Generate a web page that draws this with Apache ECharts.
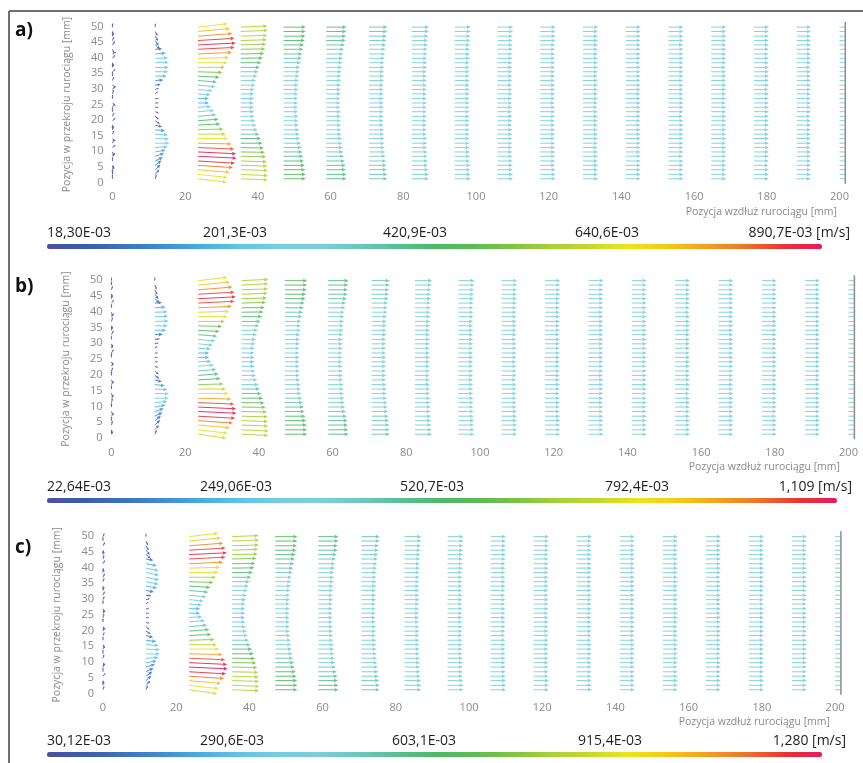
<!DOCTYPE html>
<html>
<head>
<meta charset="utf-8">
<script src="https://cdn.jsdelivr.net/npm/echarts@6/dist/echarts.min.js"></script>
<style>
  html, body { margin: 0; padding: 0; background: #fff; }
  #chart { width: 863px; height: 763px; }
</style>
</head>
<body>
<div id="chart"></div>
<script>
// ---- probe grid: stream-wise columns and cross-section rows [mm] ----
const colX = [0, 11.76, 23.53, 35.29, 47.06, 58.82, 70.59, 82.35, 94.12, 105.88,
              117.65, 129.41, 141.18, 152.94, 164.71, 176.47, 188.24, 200];
const rowY = [1.2, 2.6, 4.1, 5.5, 6.9, 8.4, 9.8, 11.2, 12.6, 14.1, 15.5, 16.9,
              18.4, 19.8, 21.2, 22.7, 24.1, 25.5, 26.9, 28.4, 29.8, 31.2, 32.7,
              34.1, 35.5, 36.9, 38.4, 39.8, 41.2, 42.7, 44.1, 45.5, 46.9, 48.4, 49.8];

// ---- colour-scale ranges [mm/s] and their labels ----
const rangeA = [18.30, 890.7];
const rangeB = [22.64, 1109];
const rangeC = [30.12, 1280];
const legendA = ['18,30E-03', '201,3E-03', '420,9E-03', '640,6E-03', '890,7E-03 [m/s]'];
const legendB = ['22,64E-03', '249,06E-03', '520,7E-03', '792,4E-03', '1,109 [m/s]'];
const legendC = ['30,12E-03', '290,6E-03', '603,1E-03', '915,4E-03', '1,280 [m/s]'];

// ---- velocity components [mm/s], one array per column, rows bottom -> top ----
// case a)
const uA = [
  [0,0,10,10,0, 20,10,20,10,20, 10,0,10,20,10, 0,10,20,0,10, 20,30,10,0,20, 10,0,20,30,10, 20,10,0,10,0],
  [10,50,70,90,120, 150,190,240,280,270, 240,170,100,50,30, 20,10,10,10,10, 20,60,130,210,250, 260,260,240,190,100, 60,40,30,20,0],
  [640,660,720,800,850, 890,880,830,760,680, 620,560,480,440,380, 330,250,200,200,240, 290,360,400,460,530, 600,660,700,770,840, 870,840,780,720,660],
  [600,600,600,590,580, 560,530,500,470,430, 390,350,320,290,270, 260,250,250,250,260, 270,290,310,340,370, 400,440,480,510,540, 560,580,590,600,590],
  [480,480,470,460,440, 420,400,380,360,340, 330,320,310,300,300, 290,290,290,290,290, 300,300,310,320,330, 340,360,380,400,420, 440,460,470,480,480],
  [430,430,420,410,390, 370,350,340,330,320, 310,300,300,290,290, 290,280,280,280,290, 290,290,300,300,310, 320,330,340,350,370, 390,410,420,430,430],
  [380,380,370,360,350, 340,330,320,310,310, 300,300,290,290,290, 290,290,290,290,290, 290,290,300,300,300, 310,310,320,330,340, 350,360,370,380,380],
  [350,350,340,330,330, 320,320,310,310,310, 300,300,300,300,300, 300,300,300,300,300, 300,300,300,300,300, 310,310,310,320,320, 330,330,340,350,350],
  [330,330,320,320,310, 310,310,300,300,300, 300,300,300,300,300, 300,300,300,300,300, 300,300,300,300,300, 300,300,310,310,310, 310,320,320,330,330],
  [320,320,310,310,310, 300,300,300,300,300, 300,300,290,300,300, 290,300,300,290,300, 300,290,300,300,300, 300,300,300,300,310, 310,310,310,320,320],
  [310,310,310,300,300, 300,300,300,300,290, 300,300,300,290,300, 300,300,290,300,300, 300,300,290,300,300, 300,300,300,300,300, 300,310,310,310,310],
  [310,300,300,300,300, 300,300,290,300,300, 300,290,300,300,300, 300,290,300,300,300, 300,300,300,290,300, 300,300,300,300,300, 300,300,300,300,310],
  [300,300,300,300,300, 300,290,300,300,300, 300,300,290,300,300, 300,300,300,300,290, 300,300,300,300,300, 300,290,300,300,300, 300,300,300,300,300],
  [300,300,300,300,300, 290,300,300,300,300, 300,300,300,300,290, 300,300,300,300,300, 300,300,290,300,300, 300,300,300,300,300, 290,300,300,300,300],
  [300,300,300,300,300, 300,300,300,290,300, 300,300,300,300,300, 300,300,290,300,300, 300,300,300,300,300, 290,300,300,300,300, 300,300,300,300,300],
  [300,300,300,290,300, 300,300,300,300,300, 300,290,300,300,300, 300,300,300,300,300, 290,300,300,300,300, 300,300,300,290,300, 300,300,300,300,300],
  [280,280,280,280,280, 280,280,270,280,280, 280,280,280,280,270, 280,280,280,280,280, 280,280,280,280,280, 270,280,280,280,280, 280,280,280,280,280],
  [290,290,290,290,290, 290,290,290,290,290, 290,290,290,290,290, 290,290,290,290,290, 290,290,290,290,290, 290,290,290,290,290, 290,290,290,290,290]
];
const vA = {
  0: [40,50,40,-30,30, 30,-40,20,30,-20, 30,40,-30,20,30, 40,20,-20,30,40, 30,-20,30,40,20, 30,-40,30,20,-30, 40,30,40,-30,30],
  1: [40,70,80,80,70, 60,40,20,0,-10, -20,-20,-30,-40,-30, -10,0,0,0,10, 10,10,10,0,0, 0,10,10,20,10, -60,-70,-60,-50,20],
  2: [-90,-80,-70,-60,-60, -50,-50,-40,-20,0, 0,20,30,40,40, 30,20,0,0,-20, -30,-40,-40,-30,-20, 0,0,20,40,50, 50,60,70,80,90],
  3: [-30,-30,-20,-20,-20, -10,-10,-10,0,0, 0,0,0,0,0, 0,0,0,0,0, 0,0,0,0,0, 0,0,10,10,10, 20,20,20,30,30]
};

// case b)
const uB = [
  [0,10,10,0,20, 10,0,10,20,10, 0,20,10,0,10, 20,10,0,20,10, 10,0,20,10,0, 10,20,10,0,20, 10,0,10,0,0],
  [20,60,90,110,150, 190,240,300,340,350, 300,220,130,60,40, 20,10,10,10,10, 30,70,160,260,310, 330,320,300,240,130, 70,50,30,20,0],
  [780,820,900,990,1060, 1100,1090,1030,940,850, 770,690,600,540,470, 400,310,250,250,300, 360,440,500,570,650, 740,820,870,960,1040, 1080,1040,970,890,810],
  [740,750,740,730,720, 700,660,620,580,530, 480,440,400,360,340, 320,310,310,310,320, 340,360,390,420,460, 500,550,590,630,670, 700,720,730,740,740],
  [600,600,590,570,550, 520,500,470,450,420, 410,400,380,370,370, 360,360,360,360,360, 370,370,380,400,410, 420,450,470,500,520, 550,570,590,600,600],
  [540,530,520,510,490, 460,440,420,410,400, 390,380,370,360,360, 360,350,350,350,360, 360,360,370,380,390, 400,410,420,440,460, 490,510,520,530,540],
  [470,470,460,450,440, 420,410,400,390,380, 380,370,360,360,360, 360,360,360,360,360, 360,360,370,370,380, 380,390,400,410,420, 440,450,460,470,470],
  [440,430,420,410,410, 400,400,390,390,380, 380,370,370,370,370, 370,370,370,370,370, 370,370,370,370,380, 380,390,390,400,400, 410,410,420,430,440],
  [410,410,400,400,390, 390,380,380,380,370, 370,370,370,370,370, 370,370,370,370,370, 370,370,370,370,370, 370,380,380,380,390, 390,400,400,410,410],
  [390,390,390,380,380, 380,370,370,370,370, 370,370,360,370,370, 370,360,370,370,370, 370,360,370,370,370, 370,370,370,370,380, 380,380,390,390,390],
  [380,380,380,380,370, 370,370,370,370,360, 370,370,370,370,370, 360,370,370,370,370, 370,370,360,370,370, 370,370,370,370,370, 370,380,380,380,380],
  [380,370,370,370,370, 370,370,360,370,370, 370,370,370,360,370, 370,370,370,370,370, 360,370,370,370,370, 370,370,360,370,370, 370,370,370,370,380],
  [370,370,370,370,370, 370,360,370,370,370, 370,370,370,370,370, 360,370,370,370,370, 370,370,370,370,360, 370,370,370,370,370, 370,370,370,370,370],
  [370,370,370,370,370, 370,370,370,370,360, 370,370,370,370,370, 370,370,370,360,370, 370,370,370,370,370, 370,370,360,370,370, 370,370,370,370,370],
  [370,370,370,370,370, 370,370,370,370,370, 370,360,370,370,370, 370,370,370,370,370, 370,370,370,360,370, 370,370,370,370,370, 370,370,370,370,370],
  [370,370,370,370,360, 370,370,370,370,370, 370,370,370,370,370, 370,370,370,370,360, 370,370,370,370,370, 370,370,370,370,370, 360,370,370,370,370],
  [360,360,360,360,360, 360,360,360,360,360, 360,360,360,360,360, 360,360,360,360,360, 360,360,360,360,360, 360,360,360,360,360, 360,360,360,360,360],
  [360,360,360,360,360, 360,360,360,360,360, 360,360,360,360,360, 360,360,360,360,360, 360,360,360,360,360, 360,360,360,360,360, 360,360,360,360,360]
];
const vB = {
  0: [30,-40,50,40,30, -30,40,50,30,-40, 30,40,-30,50,30, 40,-30,50,40,30, -40,30,50,40,-30, 40,30,-50,40,30, 40,-30,40,30,20],
  1: [50,80,100,100,90, 70,50,30,0,-10, -20,-30,-40,-50,-40, -10,0,0,0,10, 10,10,10,0,0, 10,10,10,20,10, -70,-80,-70,-60,20],
  2: [-130,-110,-90,-80,-70, -60,-60,-50,-30,0, 0,20,40,50,50, 40,20,0,0,-20, -40,-50,-50,-40,-20, 0,0,30,50,60, 60,70,90,100,110],
  3: [-40,-40,-30,-30,-20, -20,-10,-10,0,0, 0,0,0,0,0, 0,0,0,0,0, 0,0,0,0,0, 0,0,10,10,20, 20,30,30,40,40]
};

// case c)
const uC = [
  [10,0,10,20,0, 10,20,10,0,10, 20,0,10,10,20, 0,10,20,10,0, 10,20,10,0,10, 20,0,10,20,10, 0,10,20,0,10],
  [20,70,100,130,170, 220,280,340,390,400, 350,260,150,70,40, 20,10,10,10,10, 30,80,180,290,340, 360,360,340,280,160, 80,60,40,20,0],
  [900,950,1040,1150,1220, 1280,1260,1190,1090,980, 890,800,690,620,540, 460,360,290,290,350, 420,510,580,660,760, 860,950,1010,1110,1200, 1250,1200,1120,1030,940],
  [860,870,860,850,830, 800,760,720,670,610, 560,500,460,420,390, 370,360,360,360,370, 390,420,450,490,530, 580,630,690,730,770, 810,830,850,860,850],
  [690,690,680,660,630, 600,570,540,520,490, 470,460,440,430,420, 420,410,410,420,420, 430,430,440,460,470, 490,520,540,570,600, 630,660,680,690,690],
  [620,620,600,590,560, 530,500,490,470,460, 450,430,430,420,420, 410,410,410,410,410, 420,420,430,430,450, 460,470,490,500,530, 560,590,600,620,620],
  [550,550,530,520,500, 490,470,460,450,440, 430,430,420,420,420, 410,410,410,410,410, 420,420,420,430,430, 440,450,460,470,490, 500,520,530,550,550],
  [500,500,490,480,470, 460,460,450,440,440, 430,430,430,430,430, 420,420,420,420,430, 430,430,430,430,430, 440,440,450,450,460, 470,480,490,500,500],
  [470,470,460,450,450, 440,440,440,430,430, 430,430,430,430,430, 430,430,430,430,430, 430,430,430,430,430, 430,430,440,440,440, 450,450,460,470,470],
  [450,450,450,440,440, 440,430,430,430,430, 430,430,420,430,430, 430,420,430,430,430, 430,420,430,430,430, 430,430,430,430,440, 440,440,450,450,450],
  [440,440,440,430,430, 430,430,430,430,420, 430,430,430,420,430, 430,430,420,430,430, 430,430,420,430,430, 430,430,430,430,430, 430,440,440,440,440],
  [440,430,430,430,430, 430,430,420,430,430, 430,420,430,430,430, 430,420,430,430,430, 430,430,430,420,430, 430,430,430,430,430, 430,430,430,430,440],
  [430,430,430,430,430, 430,420,430,430,430, 430,430,420,430,430, 430,430,430,430,420, 430,430,430,430,430, 430,420,430,430,430, 430,430,430,430,430],
  [430,430,430,430,430, 420,430,430,430,430, 430,430,430,430,420, 430,430,430,430,430, 430,430,420,430,430, 430,430,430,430,430, 420,430,430,430,430],
  [430,430,430,430,430, 430,430,430,420,430, 430,430,430,430,430, 430,430,420,430,430, 430,430,430,430,430, 420,430,430,430,430, 430,430,430,430,430],
  [430,430,430,420,430, 430,430,430,430,430, 430,420,430,430,430, 430,430,430,430,430, 420,430,430,430,430, 430,430,430,420,430, 430,430,430,430,430],
  [420,420,420,420,420, 420,420,420,420,420, 420,420,420,420,420, 420,420,420,420,420, 420,420,420,420,420, 420,420,420,420,420, 420,420,420,420,420],
  [420,420,420,420,420, 420,420,420,420,420, 420,420,420,420,420, 420,420,420,420,420, 420,420,420,420,420, 420,420,420,420,420, 420,420,420,420,420]
];
const vC = {
  0: [40,50,-40,30,50, 40,-30,40,50,30, -40,40,30,50,-30, 40,50,30,-40,40, 30,50,40,-30,40, 50,30,-40,40,50, 30,-40,40,50,30],
  1: [60,90,110,110,100, 80,50,20,-10,-20, -30,-40,-50,-50,-40, -10,0,0,0,10, 10,-10,-40,-60,-80, -90,-90,-80,-60,-30, -80,-90,-80,-60,20],
  2: [-150,-130,-110,-90,-80, -70,-70,-60,-30,0, 0,30,40,60,60, 50,30,0,0,-30, -50,-60,-60,-50,-30, 0,0,30,60,70, 70,80,100,120,130],
  3: [-40,-40,-30,-30,-20, -20,-10,-10,0,0, 0,0,0,0,0, 0,0,0,0,0, 0,0,0,0,0, 0,0,10,10,20, 20,30,30,40,40]
};

// ---- presentation ----
const FONT = '"Open Sans", "Noto Sans", sans-serif';
const GREY = '#8a8a8a';
const X_END = 201.6; // outlet boundary, mm
const speedRamp = ['#4b4f9e', '#3c5daf', '#3c72c2', '#3f8ed4', '#4aaee2', '#62c5e6', '#78cde0',
  '#7acfd8', '#6cc8bc', '#58bf92', '#4cb96a', '#5cbb55', '#80c440', '#a8d038', '#c4d82e',
  '#ebe51c', '#f5c815', '#f4a021', '#f07428', '#e83535', '#e8195a'];

const panels = [
  { tag: 'a)', tagY: 31, u: uA, v: vA, range: rangeA, legend: legendA,
    grid: { left: 112.5, top: 26.5, width: 732.8, height: 156 },
    arrow: { base: 0.83, gain: 11.0 },
    xTitle: [837, 212], bar: { left: 47, top: 244, len: 775 }, labelY: 233,
    labelX: [47, 203, 383, 575, 850] },
  { tag: 'b)', tagY: 287, u: uB, v: vB, range: rangeB, legend: legendB,
    grid: { left: 111.5, top: 280, width: 742.9, height: 158 },
    arrow: { base: 0.82, gain: 8.7 },
    xTitle: [840, 467], bar: { left: 47, top: 498, len: 790 }, labelY: 487,
    labelX: [47, 200, 400, 605, 852] },
  { tag: 'c)', tagY: 548, u: uC, v: vC, range: rangeC, legend: legendC,
    grid: { left: 103, top: 536, width: 737.9, height: 157.5 },
    arrow: { base: 0.82, gain: 7.6 },
    xTitle: [830, 722], bar: { left: 47, top: 752, len: 775 }, labelY: 741,
    labelX: [47, 200, 392, 578, 846] }
];

// rows: [x, y, u, v, |V|]
function buildField(u, v) {
  const out = [];
  for (let c = 0; c < colX.length; c++) {
    const uc = u[c] || [], vc = v[c] || [];
    for (let r = 0; r < rowY.length && r < uc.length; r++) {
      const uu = uc[r], vv = vc[r] || 0;
      out.push([colX[c], rowY[r], uu, vv, Math.hypot(uu, vv)]);
    }
  }
  return out;
}

// arrow glyph: tail at the probe point, length grows with speed
function arrowRenderer(cfg) {
  return function (params, api) {
    const x = api.value(0), y = api.value(1);
    const u = api.value(2), v = api.value(3), s = api.value(4);
    const color = api.visual('color');
    const p0 = api.coord([x, y]);
    const k = api.size([1, 1]);
    let dx = u * k[0], dy = -v * k[1];
    const n = Math.hypot(dx, dy) || 1;
    const L = (cfg.base + cfg.gain * s / 1000) * k[0];
    dx = dx / n * L; dy = dy / n * L;
    const x1 = p0[0] + dx, y1 = p0[1] + dy;
    const cs = params.coordSys;
    const right = cs.x + cs.width;
    const lineStyle = { stroke: color, lineWidth: 1, opacity: 0.9 };
    if (x1 > right) {
      const t = (right - p0[0]) / dx;
      return { type: 'line', shape: { x1: p0[0], y1: p0[1], x2: right, y2: p0[1] + dy * t }, style: lineStyle };
    }
    const ux = dx / L, uy = dy / L;
    const hl = Math.min(4, L * 0.5), hw = hl * 0.45;
    const bx = x1 - ux * hl, by = y1 - uy * hl;
    return {
      type: 'group',
      children: [
        { type: 'line', shape: { x1: p0[0], y1: p0[1], x2: bx, y2: by }, style: lineStyle },
        { type: 'polygon', shape: { points: [[x1, y1], [bx - uy * hw, by + ux * hw], [bx + uy * hw, by - ux * hw]] },
          style: { fill: color, opacity: 0.9 } }
      ]
    };
  };
}

const option = {
  animation: false,
  backgroundColor: '#fff',
  textStyle: { fontFamily: FONT },
  grid: panels.map(p => ({ left: p.grid.left, top: p.grid.top, width: p.grid.width, height: p.grid.height })),
  xAxis: panels.map((p, i) => ({
    type: 'value', gridIndex: i, min: 0, max: X_END, interval: 20,
    axisLine: { show: false }, axisTick: { show: false }, splitLine: { show: false },
    axisLabel: { color: GREY, fontSize: 11, margin: 9, fontFamily: FONT,
      formatter: val => (val % 20 === 0 ? String(val) : '') }
  })),
  yAxis: panels.map((p, i) => ({
    type: 'value', gridIndex: i, min: 0, max: 50, interval: 5,
    axisLine: { show: false }, axisTick: { show: false }, splitLine: { show: false },
    axisLabel: { color: GREY, fontSize: 11, margin: 9, fontFamily: FONT },
    name: 'Pozycja w przekroju rurociągu [mm]', nameLocation: 'middle', nameGap: 40,
    nameTextStyle: { color: GREY, fontSize: 10.5, fontFamily: FONT }
  })),
  visualMap: panels.map((p, i) => ({
    type: 'continuous', seriesIndex: i, dimension: 4,
    min: p.range[0], max: p.range[1],
    orient: 'horizontal', left: p.bar.left, top: p.bar.top,
    itemWidth: 5, itemHeight: p.bar.len, padding: 0,
    calculable: false, hoverLink: false, text: null,
    inRange: { color: speedRamp }
  })),
  series: panels.map((p, i) => ({
    type: 'custom', xAxisIndex: i, yAxisIndex: i,
    renderItem: arrowRenderer(p.arrow),
    data: buildField(p.u, p.v),
    encode: { x: 0, y: 1 },
    silent: true
  })).concat(panels.map((p, i) => ({
    type: 'line', xAxisIndex: i, yAxisIndex: i,
    data: [[X_END, -0.4], [X_END, 51.5]],
    symbol: 'none', silent: true, clip: false,
    lineStyle: { color: '#8c8c8c', width: 1.5 }
  }))),
  graphic: [
    { type: 'line', shape: { x1: 9, y1: 11, x2: 863, y2: 11 }, style: { stroke: '#6e6e6e', lineWidth: 2 } },
    { type: 'line', shape: { x1: 9, y1: 11, x2: 9, y2: 763 }, style: { stroke: '#6e6e6e', lineWidth: 2 } }
  ].concat(...panels.map(p => [
    { type: 'text', x: 15, y: p.tagY,
      style: { text: p.tag, font: 'bold 19px ' + FONT, fill: '#111',
        verticalAlign: 'middle', textVerticalAlign: 'middle' } },
    { type: 'text', x: p.xTitle[0], y: p.xTitle[1],
      style: { text: 'Pozycja wzdłuż rurociągu [mm]', font: '10.5px ' + FONT, fill: GREY,
        align: 'right', textAlign: 'right', verticalAlign: 'middle', textVerticalAlign: 'middle' } }
  ].concat(p.legend.map((t, j) => ({
    type: 'text', x: p.labelX[j], y: p.labelY,
    style: { text: t, font: '14px ' + FONT, fill: '#1e1e1e',
      align: j === p.legend.length - 1 ? 'right' : 'left',
      textAlign: j === p.legend.length - 1 ? 'right' : 'left',
      verticalAlign: 'middle', textVerticalAlign: 'middle' }
  })))))
};

const chart = echarts.init(document.getElementById('chart'), null, { renderer: 'canvas' });
chart.setOption(option);
</script>
</body>
</html>
